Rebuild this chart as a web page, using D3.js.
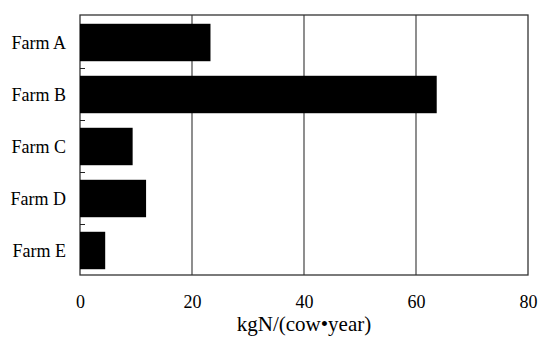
<!DOCTYPE html>
<html>
<head>
<meta charset="utf-8">
<script src="https://cdn.jsdelivr.net/npm/d3@7"></script>
<style>
    body { margin: 0; background: #fff; }
    svg text { font-family: "Liberation Serif", "Times New Roman", serif; fill: #000; }
</style>
</head>
<body>
<svg class="chart"></svg>
<script>
// data
const farms = ["Farm A", "Farm B", "Farm C", "Farm D", "Farm E"];
const values = [23.3, 63.7, 9.4, 11.8, 4.5];
const xTicks = [0, 20, 40, 60, 80];
const xTitle = "kgN/(cow\u2022year)";

const data = farms.map((name, i) => ({ name, value: values[i] }));

const margin = { top: 15, right: 10, bottom: 63, left: 80 };
const width = 538 - margin.left - margin.right;
const height = 338 - margin.top - margin.bottom;

const svg = d3.select(".chart")
    .attr("width", 538)
    .attr("height", 338);

const xScale = d3.scaleLinear()
    .domain([0, 80])
    .range([0, width]);

const yScale = d3.scaleBand()
    .domain(farms)
    .range([0, height])
    .padding(0.28)
    .paddingOuter(0.14);

const group = svg.append("g")
    .attr("transform", `translate(${margin.left} ${margin.top})`);

// vertical grid lines
group.append("g")
    .selectAll("line")
    .data(xTicks.slice(1, -1))
    .enter()
    .append("line")
    .attr("x1", d => xScale(d))
    .attr("x2", d => xScale(d))
    .attr("y1", 0)
    .attr("y2", height)
    .attr("stroke", "#444")
    .attr("stroke-width", 1.2);

// frame
group.append("rect")
    .attr("x", 0)
    .attr("y", 0)
    .attr("width", width)
    .attr("height", height)
    .attr("fill", "none")
    .attr("stroke", "#333")
    .attr("stroke-width", 1.3);

// bars
group.selectAll("rect.bar")
    .data(data)
    .enter()
    .append("rect")
    .attr("class", "bar")
    .attr("x", 0)
    .attr("y", d => yScale(d.name) + 1.5)
    .attr("width", d => xScale(d.value))
    .attr("height", yScale.bandwidth())
    .attr("fill", "#000");

// small ticks between categories on the left axis
const step = yScale.step();
group.append("g")
    .selectAll("line")
    .data(farms.slice(1))
    .enter()
    .append("line")
    .attr("x1", 0)
    .attr("x2", 5)
    .attr("y1", d => yScale(d) - yScale.paddingInner() * step / 2 + 1.5)
    .attr("y2", d => yScale(d) - yScale.paddingInner() * step / 2 + 1.5)
    .attr("stroke", "#222")
    .attr("stroke-width", 1);

// left axis
const yAxis = d3.axisLeft(yScale).tickSize(0).tickPadding(14);
const yG = group.append("g").call(yAxis);
yG.select(".domain").remove();
yG.selectAll("text")
    .attr("dy", "0.35em")
    .attr("y", 2)
    .style("font-size", "18px");

// bottom axis
const xAxis = d3.axisBottom(xScale).tickValues(xTicks).tickSize(0).tickPadding(20);
const xG = group.append("g")
    .attr("transform", `translate(0 ${height})`)
    .call(xAxis);
xG.select(".domain").remove();
xG.selectAll("text").style("font-size", "18px");

// axis title
svg.append("text")
    .attr("x", margin.left + width / 2)
    .attr("y", 331)
    .attr("text-anchor", "middle")
    .style("font-size", "21px")
    .text(xTitle);
</script>
</body>
</html>
